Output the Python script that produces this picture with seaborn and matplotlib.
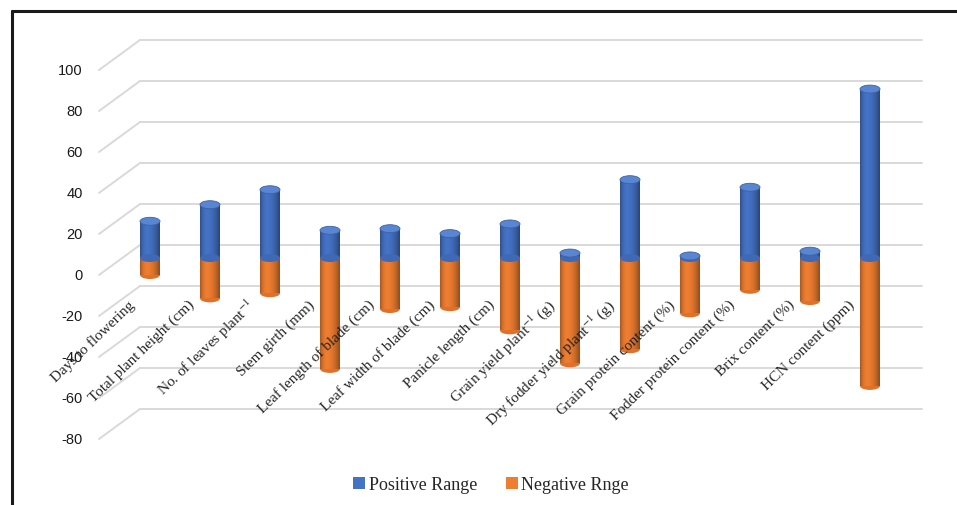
import numpy as np
import pandas as pd
import matplotlib
matplotlib.use("Agg")
import matplotlib.pyplot as plt
from matplotlib.patches import Ellipse
from matplotlib.lines import Line2D
import seaborn as sns

# ---- data -------------------------------------------------------------
traits = [
    "Days to flowering",
    "Total plant height (cm)",
    r"No. of leaves plant$^{-1}$",
    "Stem girth (mm)",
    "Leaf length of blade (cm)",
    "Leaf width of blade (cm)",
    "Panicle length (cm)",
    r"Grain yield plant$^{-1}$ (g)",
    r"Dry fodder yield plant$^{-1}$ (g)",
    "Grain protein content (%)",
    "Fodder protein content (%)",
    "Brix content (%)",
    "HCN content (ppm)",
]
positive_range = [17.9, 26.0, 33.3, 13.5, 14.3, 11.9, 16.6, 2.4, 38.2, 1.0, 34.5, 3.3, 82.4]
negative_range = [-8.3, -19.7, -17.2, -54.1, -24.9, -24.0, -35.3, -51.4, -44.5, -27.0, -15.5, -21.0, -62.4]
y_ticks = [100, 80, 60, 40, 20, 0, -20, -40, -60, -80]

BLUE = "#4472C4"
ORANGE = "#ED7D31"
GRID = "#D9D9D9"

df = pd.DataFrame({"trait": traits,
                   "Positive Range": positive_range,
                   "Negative Rnge": negative_range})

sns.set_theme(style="white")
plt.rcParams["font.family"] = ["Liberation Serif", "DejaVu Serif"]
plt.rcParams["mathtext.fontset"] = "stix"

fig = plt.figure(figsize=(9.57, 5.06), dpi=100)
W, H = 957, 506
ax = fig.add_axes([20 / W, (H - 470) / H, 920 / W, 450 / H])

BAR_W = 0.333
sns.barplot(data=df, x="trait", y="Positive Range", order=traits, color=BLUE,
            saturation=1, width=BAR_W, errorbar=None, label="Positive Range",
            linewidth=0, zorder=3, ax=ax)
sns.barplot(data=df, x="trait", y="Negative Rnge", order=traits, color=ORANGE,
            saturation=1, width=BAR_W, errorbar=None, label="Negative Rnge",
            linewidth=0, zorder=3, ax=ax)

# cylinder-like shading across each column
t = np.linspace(0, 1, 64)
shade = np.where(t < 0.35, 0.30 * ((0.35 - t) / 0.35) ** 2,
                 0.40 * ((t - 0.35) / 0.65) ** 2)
overlay = np.zeros((1, t.size, 4))
overlay[..., 3] = shade
for patch in list(ax.patches):
    bb = patch.get_bbox()
    im = ax.imshow(overlay, extent=[bb.x0, bb.x1, bb.y0, bb.y1],
                   aspect="auto", interpolation="bilinear", zorder=3.5)
    im.set_clip_path(patch)

# elliptical caps of the cylinders
CAP_H = 3.9
for i, (p, n) in enumerate(zip(positive_range, negative_range)):
    ax.add_patch(Ellipse((i, n), BAR_W, CAP_H, facecolor="#E0712A",
                         edgecolor="none", zorder=2.9))
    ax.add_patch(Ellipse((i, 0), BAR_W, CAP_H, facecolor="#3F69B5",
                         edgecolor="none", zorder=4))
    ax.add_patch(Ellipse((i, p), BAR_W, CAP_H, facecolor="#5A85D1",
                         edgecolor="#3A62A8", linewidth=0.6, zorder=4.2))

# perspective gridlines: back wall plus receding edges to the front
back_off, front_off = 6.34, -8.29
x_back0, x_back1, x_front = -0.167, 12.867, -0.85
for g in y_ticks:
    ax.plot([x_back0, x_back1], [g + back_off] * 2, color=GRID, lw=1.4, zorder=1)
    ax.plot([x_front, x_back0], [g + front_off, g + back_off], color=GRID,
            lw=1.4, zorder=1)
    ax.text(-1.12, g + front_off, str(g), ha="right", va="center",
            fontsize=10.5, family=["Liberation Sans", "DejaVu Sans"], color="#1a1a1a")

for i, name in enumerate(traits):
    ax.text(i - 0.29, -21.5, name, rotation=44, rotation_mode="anchor",
            ha="right", va="center", fontsize=11, color="#262626")

ax.set_xlim(-130 / 60, 790 / 60)
ax.set_ylim((259 - 470) / 2.05, (259 - 20) / 2.05)
ax.set_xticks([])
ax.set_yticks([])
ax.set_xlabel("")
ax.set_ylabel("")
for s in ax.spines.values():
    s.set_visible(False)

ax.legend(loc="center", bbox_to_anchor=(491 / W, 1 - 486 / H),
          bbox_transform=fig.transFigure, ncol=2, frameon=False,
          prop={"family": "Liberation Serif", "size": 13},
          handlelength=0.65, handleheight=0.65, handletextpad=0.2,
          columnspacing=1.6)

# chart frame (top and left edges)
fig.add_artist(Line2D([12 / W, 1], [1 - 12 / H] * 2, color="#1a1a1a", lw=2.2))
fig.add_artist(Line2D([12 / W] * 2, [1 - 12 / H, 0], color="#1a1a1a", lw=2.2))

fig.savefig("out.png", dpi=100, facecolor="white")
